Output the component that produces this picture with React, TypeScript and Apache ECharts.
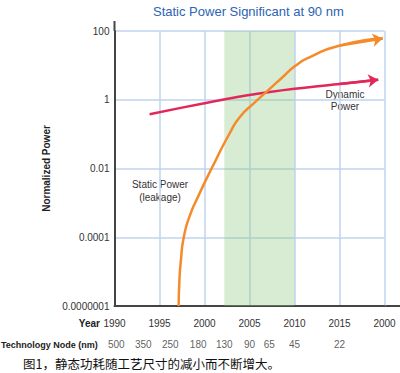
import React, { useEffect, useRef } from "react";
import * as echarts from "echarts";

// Y axis: equally spaced levels (0..4) labelled with normalized power values
const yTickLabels = ["0.0000001", "0.0001", "0.01", "1", "100"];
// X axis years (last label printed as "2000" in the original)
const xTickLabels = ["1990", "1995", "2000", "2005", "2010", "2015", "2000"];

// Dynamic power (in axis level units)
const dynamicYears = [1993.9, 2000, 2005, 2010, 2015, 2019.3];
const dynamicLevels = [2.79, 2.95, 3.07, 3.16, 3.23, 3.29];

// Static power (leakage) (in axis level units)
const staticYears = [1997.13, 1997.2, 1997.38, 1997.7, 1998.3, 1999.39, 2000.83, 2002.83, 2004.0, 2005.5, 2007.09, 2008.61, 2010.06, 2011.72, 2015.06, 2019.8];
const staticLevels = [0, 0.33, 0.67, 1.0, 1.29, 1.62, 2.01, 2.52, 2.76, 2.95, 3.14, 3.32, 3.49, 3.62, 3.79, 3.89];

// Technology nodes
const nodeYears = [1990.2, 1993.2, 1996.2, 1999.3, 2002.2, 2005, 2007.2, 2010, 2015];
const nodeLabels = ["500", "350", "250", "180", "130", "90", "65", "45", "22"];

// Highlighted band (90 nm era)
const bandStart = 2002.2;
const bandEnd = 2010;

const FONT = "'Liberation Sans', Arial, sans-serif";
const RED = "#e2275a";
const ORANGE = "#f58a2a";
const GRID = "#bfd3ee";
const AXIS = "#444";

export default function App() {
  const ref = useRef<HTMLDivElement>(null);
  useEffect(() => {
    if (!ref.current) return;
    const chart = echarts.init(ref.current, undefined, { renderer: "svg" });
    const gLeft = 114.5;
    const gTop = 31;
    const gWidth = 270;
    const gHeight = 275;
    const dyn = dynamicYears.map((y, i) => [y, dynamicLevels[i]]);
    const sta = staticYears.map((y, i) => [y, staticLevels[i]]);
    chart.setOption({
      animation: false,
      textStyle: { fontFamily: FONT },
      title: {
        text: "Static Power Significant at 90 nm",
        left: 148,
        top: 0,
        textStyle: { fontSize: 13, fontWeight: "normal", color: "#2d64b4", fontFamily: FONT },
      },
      grid: [
        { left: gLeft, top: gTop, width: gWidth, height: gHeight },
        { left: gLeft, top: 336, width: gWidth, height: 16 },
      ],
      xAxis: [
        {
          type: "value",
          gridIndex: 0,
          min: 1990,
          max: 2020,
          interval: 5,
          axisLine: { show: true, lineStyle: { color: AXIS, width: 2 } },
          axisTick: { show: false },
          axisLabel: {
            fontSize: 10,
            color: "#333",
            margin: 12,
            fontFamily: FONT,
            formatter: (v: number) => xTickLabels[Math.round((v - 1990) / 5)] ?? "",
          },
          splitLine: { show: true, lineStyle: { color: GRID, width: 1.5 } },
        },
        { type: "value", gridIndex: 1, min: 1990, max: 2020, show: false },
      ],
      yAxis: [
        {
          type: "value",
          gridIndex: 0,
          min: 0,
          max: 4,
          interval: 1,
          name: "Normalized Power",
          nameLocation: "middle",
          nameGap: 42,
          nameTextStyle: { fontSize: 10, fontWeight: "bold", color: "#222", fontFamily: FONT },
          axisLine: { show: true, lineStyle: { color: AXIS, width: 2 } },
          axisTick: { show: false },
          axisLabel: {
            fontSize: 10,
            color: "#333",
            margin: 5,
            fontFamily: FONT,
            formatter: (v: number) => yTickLabels[Math.round(v)] ?? "",
          },
          splitLine: { show: true, lineStyle: { color: GRID, width: 1.5 } },
        },
        { type: "value", gridIndex: 1, min: 0, max: 1, show: false },
      ],
      series: [
        {
          type: "line",
          name: "Dynamic Power",
          xAxisIndex: 0,
          yAxisIndex: 0,
          data: dyn,
          smooth: 0.3,
          symbol: "none",
          lineStyle: { color: RED, width: 2.5 },
          z: 3,
          markArea: {
            silent: true,
            itemStyle: { color: "rgba(140,200,130,0.35)" },
            data: [[{ xAxis: bandStart }, { xAxis: bandEnd }]],
          },
        },
        {
          type: "lines",
          coordinateSystem: "cartesian2d",
          xAxisIndex: 0,
          yAxisIndex: 0,
          symbol: ["none", "arrow"],
          symbolSize: 10,
          lineStyle: { color: RED, width: 2.5, opacity: 1 },
          data: [{ coords: dyn.slice(-2) }],
          z: 3,
        },
        {
          type: "line",
          name: "Static Power (leakage)",
          xAxisIndex: 0,
          yAxisIndex: 0,
          data: sta,
          smooth: 0.6,
          symbol: "none",
          lineStyle: { color: ORANGE, width: 2.5 },
          z: 4,
        },
        {
          type: "lines",
          coordinateSystem: "cartesian2d",
          xAxisIndex: 0,
          yAxisIndex: 0,
          symbol: ["none", "arrow"],
          symbolSize: 10,
          lineStyle: { color: ORANGE, width: 2.5, opacity: 1 },
          data: [{ coords: sta.slice(-2) }],
          z: 4,
        },
        {
          type: "scatter",
          xAxisIndex: 1,
          yAxisIndex: 1,
          symbolSize: 1,
          itemStyle: { color: "transparent" },
          data: nodeYears.map((y, i) => ({ value: [y, 0.5], name: nodeLabels[i] })),
          label: {
            show: true,
            position: "inside",
            formatter: (p: any) => p.name,
            fontSize: 10,
            color: "#333",
            fontFamily: FONT,
          },
        },
      ],
      graphic: [
        { type: "line", shape: { x1: gLeft, y1: 21, x2: gLeft, y2: gTop }, style: { stroke: AXIS, lineWidth: 2 } },
        { type: "line", shape: { x1: gLeft + gWidth, y1: gTop + gHeight, x2: 400, y2: gTop + gHeight }, style: { stroke: AXIS, lineWidth: 2 } },
        {
          type: "text",
          x: 100,
          y: 323.5,
          style: { text: "Year", fontSize: 10, fontWeight: "bold", fill: "#222", fontFamily: FONT, align: "right", verticalAlign: "middle" },
        },
        {
          type: "text",
          x: 1,
          y: 344.5,
          style: { text: "Technology Node (nm)", fontSize: 9, fontWeight: "bold", fill: "#222", fontFamily: FONT, align: "left", verticalAlign: "middle" },
        },
        {
          type: "text",
          x: 345,
          y: 100.5,
          style: { text: "Dynamic\nPower", fontSize: 10, lineHeight: 12.5, fill: "#333", fontFamily: FONT, align: "center", verticalAlign: "middle" },
        },
        {
          type: "text",
          x: 160,
          y: 191,
          style: { text: "Static Power\n(leakage)", fontSize: 10, lineHeight: 13, fill: "#333", fontFamily: FONT, align: "center", verticalAlign: "middle" },
        },
        {
          type: "text",
          x: 23,
          y: 363.5,
          style: { text: "图1，静态功耗随工艺尺寸的减小而不断增大。", fontSize: 12.5, fill: "#111", fontFamily: "'Noto Sans CJK SC', sans-serif", align: "left", verticalAlign: "middle" },
        },
      ],
    });
    return () => chart.dispose();
  }, []);
  return (
    <div
      ref={ref}
      style={{ position: "absolute", left: 0, top: 0, width: 400, height: 373, background: "#fff" }}
    />
  );
}
